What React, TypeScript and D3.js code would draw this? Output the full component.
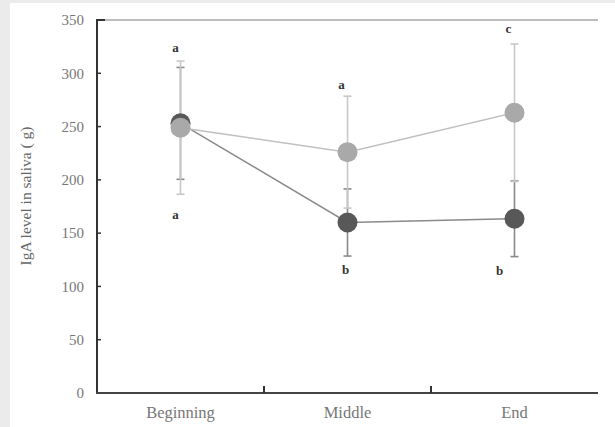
import React from "react";
import * as d3 from "d3";

const categories = ["Beginning", "Middle", "End"];
const darkMeans = [253, 160, 163.5];
const darkErrors = [52.5, 31.5, 35.5];
const lightMeans = [249, 226, 263];
const lightErrors = [62.5, 52.5, 64.5];
const yTicks = [0, 50, 100, 150, 200, 250, 300, 350];
const darkLetters = ["a", "b", "b"];
const lightLetters = ["a", "a", "c"];

const W = 615;
const H = 427;
const M = { left: 97, right: 598, top: 20, bottom: 393 };

export default function App() {
  const x = d3.scaleBand<string>().domain(categories).range([M.left, M.right]).padding(0);
  const y = d3.scaleLinear().domain([0, 350]).range([M.bottom, M.top]);
  const cx = (c: string) => (x(c) as number) + x.bandwidth() / 2;
  const line = d3
    .line<number>()
    .x((_, i) => cx(categories[i]))
    .y((d) => y(d));
  const serif = "'Liberation Serif', 'DejaVu Serif', serif";

  const errBars = (means: number[], errs: number[], color: string) =>
    means.map((m, i) => {
      const xc = cx(categories[i]);
      const y1 = y(m + errs[i]);
      const y2 = y(m - errs[i]);
      return (
        <g key={i} stroke={color} strokeWidth={1.6}>
          <line x1={xc} x2={xc} y1={y1} y2={y2} />
          <line x1={xc - 4} x2={xc + 4} y1={y1} y2={y1} />
          <line x1={xc - 4} x2={xc + 4} y1={y2} y2={y2} />
        </g>
      );
    });

  return (
    <svg width={W} height={H} style={{ position: "absolute", left: 0, top: 0 }}>
      <rect x={0} y={0} width={W} height={H} fill="#ebebeb" />
      <rect x={10} y={3} width={W - 10} height={H - 3} fill="#ffffff" />

      {/* top frame line */}
      <line x1={M.left} x2={M.right} y1={M.top} y2={M.top} stroke="#bdbdbd" strokeWidth={2} />

      {/* error bars */}
      {errBars(darkMeans, darkErrors, "#8a8a8a")}
      {errBars(lightMeans, lightErrors, "#c8c8c8")}

      {/* lines */}
      <path d={line(darkMeans) as string} fill="none" stroke="#8a8a8a" strokeWidth={1.5} />
      <path d={line(lightMeans) as string} fill="none" stroke="#c0c0c0" strokeWidth={1.5} />

      {/* points */}
      {darkMeans.map((m, i) => (
        <circle key={"d" + i} cx={cx(categories[i])} cy={y(m)} r={10} fill="#585858" />
      ))}
      {lightMeans.map((m, i) => (
        <circle key={"l" + i} cx={cx(categories[i])} cy={y(m)} r={10} fill="#a9a9a9" />
      ))}

      {/* significance letters */}
      <g fontFamily={serif} fontWeight="bold" fontSize={13} fill="#333" textAnchor="middle">
        <text x={cx(categories[0]) - 5} y={y(lightMeans[0] + lightErrors[0]) - 9}>{lightLetters[0]}</text>
        <text x={cx(categories[0]) - 5} y={y(lightMeans[0] - lightErrors[0]) + 25}>{darkLetters[0]}</text>
        <text x={cx(categories[1]) - 6} y={y(lightMeans[1] + lightErrors[1]) - 7}>{lightLetters[1]}</text>
        <text x={cx(categories[1]) - 2} y={y(darkMeans[1] - darkErrors[1]) + 18}>{darkLetters[1]}</text>
        <text x={cx(categories[2]) - 6} y={y(lightMeans[2] + lightErrors[2]) - 11}>{lightLetters[2]}</text>
        <text x={cx(categories[2]) - 15} y={y(darkMeans[2] - darkErrors[2]) + 18}>{darkLetters[2]}</text>
      </g>

      {/* y axis */}
      <line x1={M.left} x2={M.left} y1={M.top - 1} y2={M.bottom} stroke="#333" strokeWidth={2} />
      {yTicks.map((t) => (
        <g key={t}>
          <line x1={M.left} x2={M.left + 4} y1={y(t)} y2={y(t)} stroke="#333" strokeWidth={1.5} />
          <text
            x={84}
            y={y(t)}
            dy="0.35em"
            textAnchor="end"
            fontFamily={serif}
            fontSize={15}
            fill="#777"
          >
            {t}
          </text>
        </g>
      ))}
      <line x1={M.left} x2={M.left + 8} y1={M.top} y2={M.top} stroke="#333" strokeWidth={2} />

      {/* x axis */}
      <line x1={M.left - 1} x2={M.right} y1={M.bottom} y2={M.bottom} stroke="#444" strokeWidth={2} />
      {categories.slice(1).map((c) => (
        <line
          key={c}
          x1={x(c) as number}
          x2={x(c) as number}
          y1={M.bottom}
          y2={M.bottom - 7}
          stroke="#333"
          strokeWidth={2}
        />
      ))}
      {categories.map((c) => (
        <text
          key={c}
          x={cx(c)}
          y={418}
          textAnchor="middle"
          fontFamily={serif}
          fontSize={16.5}
          fill="#777"
        >
          {c}
        </text>
      ))}

      {/* y label */}
      <text
        transform="translate(31,196) rotate(-90)"
        textAnchor="middle"
        fontFamily={serif}
        fontSize={15.5}
        fill="#666"
      >
        IgA level in saliva ( g)
      </text>
    </svg>
  );
}
